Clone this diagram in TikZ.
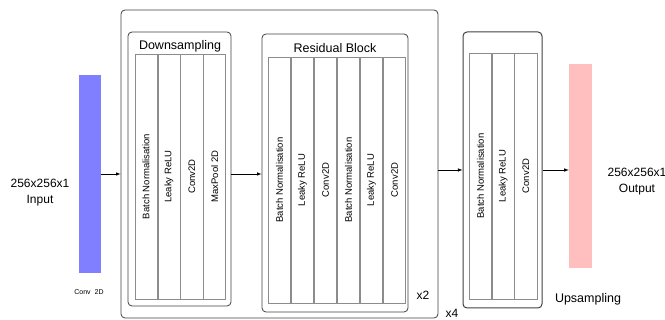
\documentclass[tikz,border=0pt]{standalone}
\usepackage{fontspec}
\setmainfont{Liberation Sans}
\usepackage{tikz}
\usetikzlibrary{positioning}
\definecolor{inblue}{HTML}{7F7FFF}
\definecolor{outpink}{HTML}{FFBFBF}
\tikzstyle{arrow} = [semithick,-latex]
\tikzstyle{bar} = [rectangle, draw=none, inner sep=0pt]
\tikzstyle{blockbox} = [rectangle, rounded corners=4pt, draw=black!75, line width=0.8pt, inner sep=0pt]
\tikzstyle{layer} = [rectangle, draw=black!45, line width=0.6pt, inner sep=0pt,
minimum height=245pt, font=\fontsize{9.5}{11}\selectfont]
\tikzstyle{label} = [align=center, font=\fontsize{12}{14}\selectfont]

\begin{document}
\begin{tikzpicture}[x=1pt, y=-1pt]
      \useasboundingbox (0,0) rectangle (665,320);

      % input and output tensors
      \node (in) [bar, fill=inblue, minimum width=22pt, minimum height=198pt] at (90,174) {};
      \node (out) [bar, fill=outpink, minimum width=23pt, minimum height=204pt] at (580.5,166) {};
      \node (inlab) [label] at (40,193) {256x256x1\\[2pt]Input};
      \node (outlab) [label] at (637,182) {256x256x1\\[2pt]Output};
      \node (convlab) [font=\fontsize{7}{8}\selectfont] at (89,292) {Conv\ \ 2D};

      % repeated blocks
      \node (outer) [blockbox, minimum width=317pt, minimum height=308pt] at (279.5,164) {};
      \node (down) [blockbox, minimum width=103pt, minimum height=274pt] at (179.5,169) {};
      \node (res) [blockbox, minimum width=146pt, minimum height=278pt] at (335,173) {};
      \node (up) [blockbox, line width=1pt, minimum width=79pt, minimum height=276pt] at (502.5,170) {};

      \node (downlab) [font=\fontsize{12.5}{14}\selectfont] at (180,46) {Downsampling};
      \node (reslab) [font=\fontsize{12.5}{14}\selectfont] at (335,48) {Residual Block};
      \node (uplab) [font=\fontsize{12.5}{14}\selectfont] at (588,299) {Upsampling};
      \node (x2) [font=\fontsize{12}{14}\selectfont] at (423,295) {x2};
      \node (x4) [font=\fontsize{12}{14}\selectfont] at (452,313) {x4};

      % downsampling layers
      \node (d1) [layer, minimum width=22.25pt] at (146.1,176.5) {\rotatebox{90}{Batch Normalisation}};
      \node (d2) [layer, minimum width=22.25pt, right=0pt of d1] {\rotatebox{90}{Leaky ReLU}};
      \node (d3) [layer, minimum width=22.25pt, right=0pt of d2] {\rotatebox{90}{Conv2D}};
      \node (d4) [layer, minimum width=22.25pt, right=0pt of d3] {\rotatebox{90}{MaxPool 2D}};

      % residual layers
      \node (r1) [layer, minimum width=22.4pt, minimum height=246pt] at (279.5,180) {\rotatebox{90}{Batch Normalisation}};
      \node (r2) [layer, minimum width=22.4pt, minimum height=246pt, right=0pt of r1] {\rotatebox{90}{Leaky ReLU}};
      \node (r3) [layer, minimum width=22.4pt, minimum height=246pt, right=0pt of r2] {\rotatebox{90}{Conv2D}};
      \node (r4) [layer, minimum width=22.4pt, minimum height=246pt, right=0pt of r3] {\rotatebox{90}{Batch Normalisation}};
      \node (r5) [layer, minimum width=22.4pt, minimum height=246pt, right=0pt of r4] {\rotatebox{90}{Leaky ReLU}};
      \node (r6) [layer, minimum width=22.4pt, minimum height=246pt, right=0pt of r5] {\rotatebox{90}{Conv2D}};

      % upsampling layers
      \node (u1) [layer, minimum width=22.1pt, minimum height=246pt] at (480.4,176) {\rotatebox{90}{Batch Normalisation}};
      \node (u2) [layer, minimum width=22.1pt, minimum height=246pt, right=0pt of u1] {\rotatebox{90}{Leaky ReLU}};
      \node (u3) [layer, minimum width=22.1pt, minimum height=246pt, right=0pt of u2] {\rotatebox{90}{Conv2D}};

      \draw [arrow] (in.east) -- (in.east -| outer.west);
      \draw [arrow] (down.east |- in.east) -- (in.east -| res.west);
      \draw [arrow] (up.west -| outer.east) -- (up.west);
      \draw [arrow] (up.east) -- (up.east -| out.west);
    \end{tikzpicture}
\end{document}
